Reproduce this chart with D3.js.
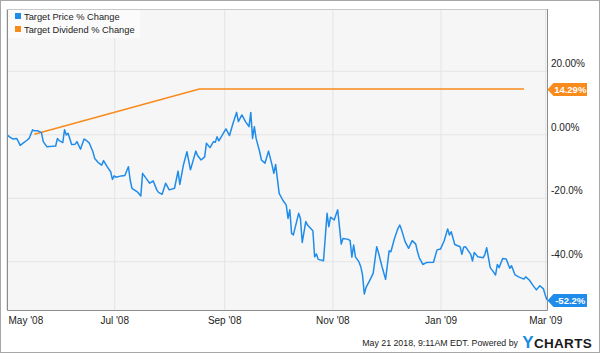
<!DOCTYPE html>
<html>
<head>
<meta charset="utf-8">
<script src="https://cdn.jsdelivr.net/npm/d3@7"></script>
<style>
  body { margin: 0; background: #fff; }
  svg { display: block; font-family: "Liberation Sans", Arial, sans-serif; }
  .tick text { fill: #222; font-size: 10px; }
  .domain { display: none; }
</style>
</head>
<body>
<div id="chart"></div>
<script>
// Data
// =================================
const startDate = "2008-05-01";
// days since 1 May 2008
const priceDays = [0, 2, 4, 6, 7, 8, 10, 12, 13, 15, 16, 18, 20, 21, 23, 26, 28, 29, 30, 32,
  33, 34, 35, 37, 39, 40, 42, 44, 45, 47, 49, 50, 52, 54, 55, 57, 59, 60, 61, 62,
  65, 67, 69, 70, 71, 74, 76, 77, 79, 81, 83, 85, 86, 88, 90, 92, 95, 97, 98, 100,
  102, 104, 107, 108, 110, 112, 113, 115, 117, 118, 119, 120, 122, 124, 126, 128, 130, 131, 133, 135,
  137, 138, 139, 140, 141, 143, 144, 146, 148, 150, 151, 152, 154, 156, 158, 159, 160, 161, 162, 165,
  166, 167, 169, 170, 173, 174, 175, 176, 179, 181, 182, 183, 185, 187, 189, 190, 193, 194, 195, 196,
  197, 199, 200, 201, 202, 203, 205, 207, 209, 210, 212, 214, 216, 217, 219, 221, 222, 223, 225, 227,
  229, 231, 232, 233, 235, 237, 241, 243, 245, 247, 249, 250, 251, 253, 256, 257, 258, 259, 262, 263,
  264, 266, 269, 270, 271, 273, 275, 276, 277, 278, 280, 282, 284, 285, 287, 289, 292, 293, 295, 297,
  299, 301, 303, 304, 305];
const priceChange = [0.1, -0.8, -1.5, -1.3, -2.3, -3.5, -2.6, -1.8, -1.3, 1.4, 1.1, 1.1, 0.5, -2.3, -3.9, -3.8, -3.7, -1.3, -2.0, -2.6,
  1.4, -0.2, 0.3, -3.2, -3.1, -2.3, -4.7, -1.5, -1.8, -2.8, -5.5, -7.6, -8.9, -9.7, -8.3, -10.2, -11.8, -14.2, -13.1, -13.5,
  -13.1, -13.0, -10.2, -14.4, -17.0, -18.1, -19.4, -12.3, -13.9, -15.4, -14.7, -17.5, -18.3, -18.9, -15.4, -17.5, -17.0, -11.6, -15.8, -9.7,
  -5.5, -11.2, -5.3, -6.7, -8.1, -7.1, -2.8, -4.2, -2.3, -2.5, -0.8, -2.1, -0.2, 1.7, -0.4, 3.5, 6.9, 4.0, 6.1, 4.0,
  2.4, 6.9, -1.3, 2.4, -1.3, -5.5, -8.1, -9.1, -5.3, -9.7, -12.3, -9.5, -18.6, -20.7, -22.3, -26.5, -23.8, -31.2, -31.7, -24.9,
  -26.5, -34.1, -27.5, -28.6, -30.4, -38.6, -37.7, -39.4, -39.8, -24.9, -29.1, -26.1, -27.0, -23.8, -34.6, -32.8, -33.1, -33.5, -38.7, -34.9,
  -38.6, -40.2, -41.7, -44.3, -50.3, -48.2, -46.1, -43.8, -35.4, -37.3, -41.7, -45.7, -36.7, -37.0, -32.8, -29.6, -28.6, -30.1, -33.8, -35.9,
  -33.5, -34.6, -37.0, -38.9, -41.0, -40.4, -40.3, -36.4, -36.1, -33.6, -29.8, -31.7, -30.7, -34.7, -35.4, -37.8, -35.6, -35.4, -37.8, -39.9,
  -37.2, -38.6, -38.9, -37.8, -35.7, -42.0, -43.5, -44.3, -41.0, -42.0, -39.1, -39.3, -42.2, -41.4, -44.3, -44.9, -45.6, -44.9, -45.9, -47.5,
  -49.0, -47.7, -48.7, -50.6, -52.2];

const dividendDays = [16, 109, 292];
const dividendChange = [0, 14.29, 14.29];

const seriesNames = ["Target Price % Change", "Target Dividend % Change"];
const lastLabels = ["-52.2%", "14.29%"];

const xTicks = ["2008-05-01", "2008-07-01", "2008-09-01", "2008-11-01", "2009-01-01", "2009-03-01"];
const xTickLabels = ["May '08", "Jul '08", "Sep '08", "Nov '08", "Jan '09", "Mar '09"];
const yTicks = [20, 0, -20, -40];
const yTickLabels = ["20.00%", "0.00%", "-20.0%", "-40.0%"];

const blue = "#1f8ceb";
const orange = "#f98a1c";

// Chart setup
// =================================
const svgWidth = 600;
const svgHeight = 353;
const plot = { left: 7, right: 547, top: 9, bottom: 310 };

const svg = d3.select("#chart")
  .append("svg")
  .attr("width", svgWidth)
  .attr("height", svgHeight);

// outer frame
svg.append("rect")
  .attr("x", 0.5).attr("y", 0.5)
  .attr("width", svgWidth - 1).attr("height", svgHeight - 1)
  .attr("fill", "#fff").attr("stroke", "#a6a6a6");

svg.append("rect")
  .attr("x", plot.left).attr("y", plot.top)
  .attr("width", plot.right - plot.left).attr("height", plot.bottom - plot.top)
  .attr("fill", "#f6f6f6");

const parse = d3.timeParse("%Y-%m-%d");
const start = parse(startDate);
const toDate = n => d3.timeDay.offset(start, n);

const xScale = d3.scaleTime()
  .domain([start, toDate(305)])
  .range([6, plot.right]);

const yScale = d3.scaleLinear()
  .domain([-55.34, 39.46])
  .range([plot.bottom, plot.top]);

// gridlines
svg.append("g")
  .attr("transform", `translate(0, ${plot.bottom})`)
  .call(d3.axisBottom(xScale)
    .tickValues(xTicks.map(parse))
    .tickSize(-(plot.bottom - plot.top))
    .tickFormat(""))
  .call(g => g.selectAll("line").attr("stroke", "#e4e4e4"));

svg.append("g")
  .attr("transform", `translate(${plot.left}, 0)`)
  .call(d3.axisRight(yScale)
    .tickValues(yTicks)
    .tickSize(plot.right - plot.left)
    .tickFormat(""))
  .call(g => g.selectAll("line").attr("stroke", "#e4e4e4"));

// x labels
svg.append("g")
  .attr("transform", `translate(0, ${plot.bottom})`)
  .call(d3.axisBottom(xScale)
    .tickValues(xTicks.map(parse))
    .tickSize(0)
    .tickPadding(5)
    .tickFormat((d, i) => xTickLabels[i]))
  .call(g => g.selectAll("text").attr("dy", "0.85em"))
  .call(g => g.select(".tick text").attr("text-anchor", "start").attr("x", 2));

// y labels (sit just above each gridline)
svg.append("g")
  .attr("transform", `translate(${plot.right}, 0)`)
  .call(d3.axisRight(yScale)
    .tickValues(yTicks)
    .tickSize(0)
    .tickPadding(4)
    .tickFormat((d, i) => yTickLabels[i]))
  .call(g => g.selectAll("text").attr("y", -7));

// lines
svg.append("clipPath").attr("id", "clip")
  .append("rect")
  .attr("x", plot.left).attr("y", plot.top)
  .attr("width", plot.right - plot.left + 2).attr("height", plot.bottom - plot.top);

const line = d3.line()
  .x(d => xScale(toDate(d[0])))
  .y(d => yScale(d[1]));

svg.append("path")
  .datum(dividendDays.map((d, i) => [d, dividendChange[i]]))
  .attr("clip-path", "url(#clip)")
  .attr("fill", "none")
  .attr("stroke", orange)
  .attr("stroke-width", 1.5)
  .attr("d", line);

svg.append("path")
  .datum(priceDays.map((d, i) => [d, priceChange[i]]))
  .attr("clip-path", "url(#clip)")
  .attr("fill", "none")
  .attr("stroke", blue)
  .attr("stroke-width", 1.5)
  .attr("stroke-linejoin", "round")
  .attr("d", line);

// plot frame
svg.append("path")
  .attr("d", `M${plot.left + 0.5},${plot.top} V${plot.bottom + 0.5} H${plot.right + 0.5} V${plot.top}`)
  .attr("fill", "none")
  .attr("stroke", "#8c8c8c");
svg.append("line")
  .attr("x1", plot.left).attr("x2", plot.right)
  .attr("y1", plot.top + 0.5).attr("y2", plot.top + 0.5)
  .attr("stroke", "#c8c8c8");

// last value badges
const badges = [
  { value: priceChange[priceChange.length - 1], text: lastLabels[0], color: blue },
  { value: dividendChange[dividendChange.length - 1], text: lastLabels[1], color: orange }
];
badges.forEach(b => {
  const cy = Math.round(yScale(b.value)) + 0.5;
  const x0 = plot.right + 0.5;
  const x1 = 587;
  const g = svg.append("g");
  g.append("path")
    .attr("d", `M${x0},${cy} L${x0 + 6},${cy - 6.5} H${x1} V${cy + 6.5} H${x0 + 6} Z`)
    .attr("fill", b.color);
  g.append("text")
    .attr("x", (x0 + 6 + x1) / 2)
    .attr("y", cy + 3.5)
    .attr("text-anchor", "middle")
    .attr("fill", "#fff")
    .attr("font-size", "9.5px")
    .attr("font-weight", "bold")
    .text(b.text);
});

// legend
const legend = svg.append("g");
legend.append("rect")
  .attr("x", plot.left + 1).attr("y", plot.top + 1)
  .attr("width", 132).attr("height", 28)
  .attr("fill", "#fbfbfb");
[blue, orange].forEach((c, i) => {
  legend.append("rect")
    .attr("x", 15).attr("y", 13 + i * 13)
    .attr("width", 6).attr("height", 6)
    .attr("fill", c);
  legend.append("text")
    .attr("x", 24).attr("y", 19.5 + i * 13)
    .attr("font-size", "9.3px")
    .attr("fill", "#222")
    .text(seriesNames[i]);
});

// footer
svg.append("text")
  .attr("x", 518).attr("y", 346)
  .attr("text-anchor", "end")
  .attr("font-size", "8.8px")
  .attr("fill", "#222")
  .text("May 21 2018, 9:11AM EDT.  Powered by");

const logo = svg.append("text")
  .attr("x", 592).attr("y", 348)
  .attr("text-anchor", "end")
  .attr("font-size", "13.5px")
  .attr("font-weight", "bold")
  .attr("letter-spacing", "0.3px");
logo.append("tspan").attr("fill", "#1b8be0").attr("font-size", "17px").text("Y");
logo.append("tspan").attr("fill", "#1a1a1a").text("CHARTS");
</script>
</body>
</html>
